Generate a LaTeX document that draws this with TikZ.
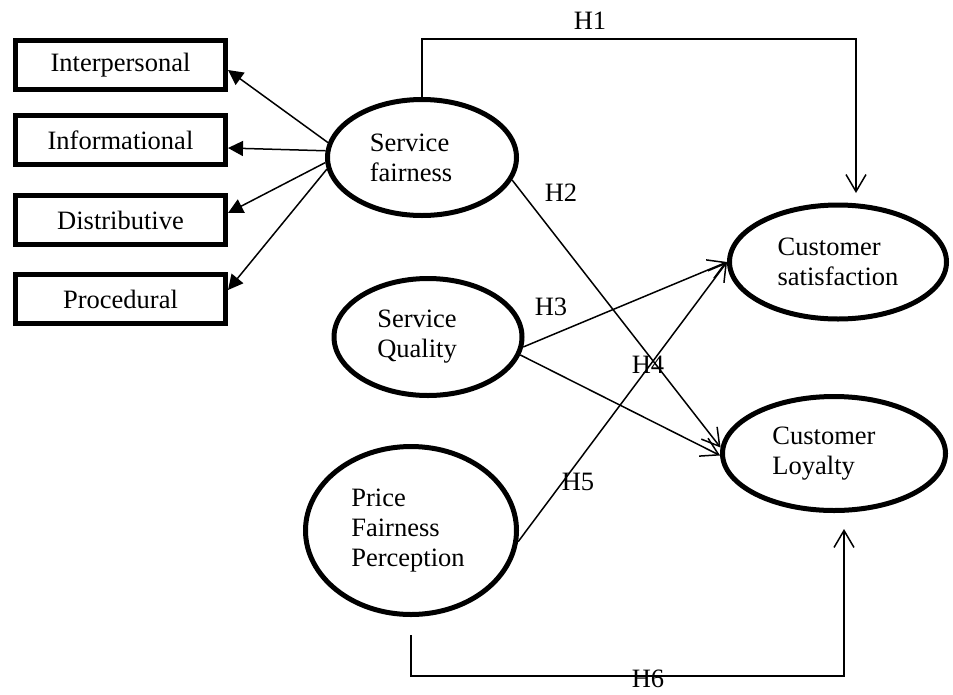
\documentclass[tikz,border=0pt]{standalone}
\usepackage{fontspec}
\setmainfont{Liberation Serif}
\usetikzlibrary{arrows.meta,shapes.geometric}
\begin{document}
\begin{tikzpicture}[x=1pt,y=-1pt,
  txtfont/.style={font=\fontsize{26.5}{30}\selectfont},
  boxnode/.style={draw, rectangle, line width=5pt, minimum width=210pt, minimum height=49pt, inner sep=0pt, txtfont},
  latent/.style={draw, ellipse, line width=5pt, inner sep=0pt, align=left, txtfont},
  link/.style={line width=1.5pt, -{Straight Barb[length=17pt,width=20pt]}},
  facet/.style={line width=1.5pt, -{Triangle[length=15pt,width=15pt]}},
  hlab/.style={inner sep=0pt, txtfont}]
\useasboundingbox (0,0) rectangle (953,694);

% facet boxes
\node[boxnode] (ip)  at (120.5,65)  {Interpersonal};
\node[boxnode] (inf) at (120.5,140) {Informational};
\node[boxnode] (dis) at (120.5,220) {Distributive};
\node[boxnode] (pro) at (120.5,299) {Procedural};

% latent constructs
\node[latent, minimum width=189pt, minimum height=116pt] (sf) at (422,157.5) {Service\\fairness\hspace*{22pt}};
\node[latent, minimum width=188pt, minimum height=117pt] (sq) at (428,337) {Service\hspace*{22pt}\\Quality};
\node[latent, minimum width=211pt, minimum height=168pt] (pf) at (411,530.5) {Price\\Fairness\\Perception\hspace*{6pt}};
\node[latent, minimum width=217pt, minimum height=114pt] (cs) at (838,262) {Customer\\satisfaction};
\node[latent, minimum width=223pt, minimum height=114pt] (cl) at (834,453.5) {Customer\hspace*{20pt}\\Loyalty};

% facet arrows
\draw[facet] (sf.171) -- (ip.east |- 0,70);
\draw[facet] (sf.176) -- (inf.east |- 0,148);
\draw[facet] (sf.183) -- (dis.east |- 0,213);
\draw[facet] (sf.187) -- (pro.east |- 0,290);

% hypotheses
\coordinate (h1end) at (856,193);
\draw[link] (sf.north) -- (sf.north |- 0,39) -| (h1end);
\draw[link] (sf.-14) -- (cl.177);
\draw[link] (sq.-6) -- (cs.west);
\draw[link] (sq.-11) -- (cl.181);
\draw[link] (pf.-6) -- (cs.west);
\coordinate (h6start) at (411,635);
\coordinate (h6end) at (844,529);
\draw[link] (h6start) -- (h6start |- 0,676) -| (h6end);

% labels
\node[hlab] (l1) at (590,21)  {H1};
\node[hlab] (l2) at (561,193) {H2};
\node[hlab] (l3) at (551,307) {H3};
\node[hlab] (l4) at (648,365) {H4};
\node[hlab] (l5) at (578,482) {H5};
\node[hlab] (l6) at (648,679) {H6};
\end{tikzpicture}
\end{document}
